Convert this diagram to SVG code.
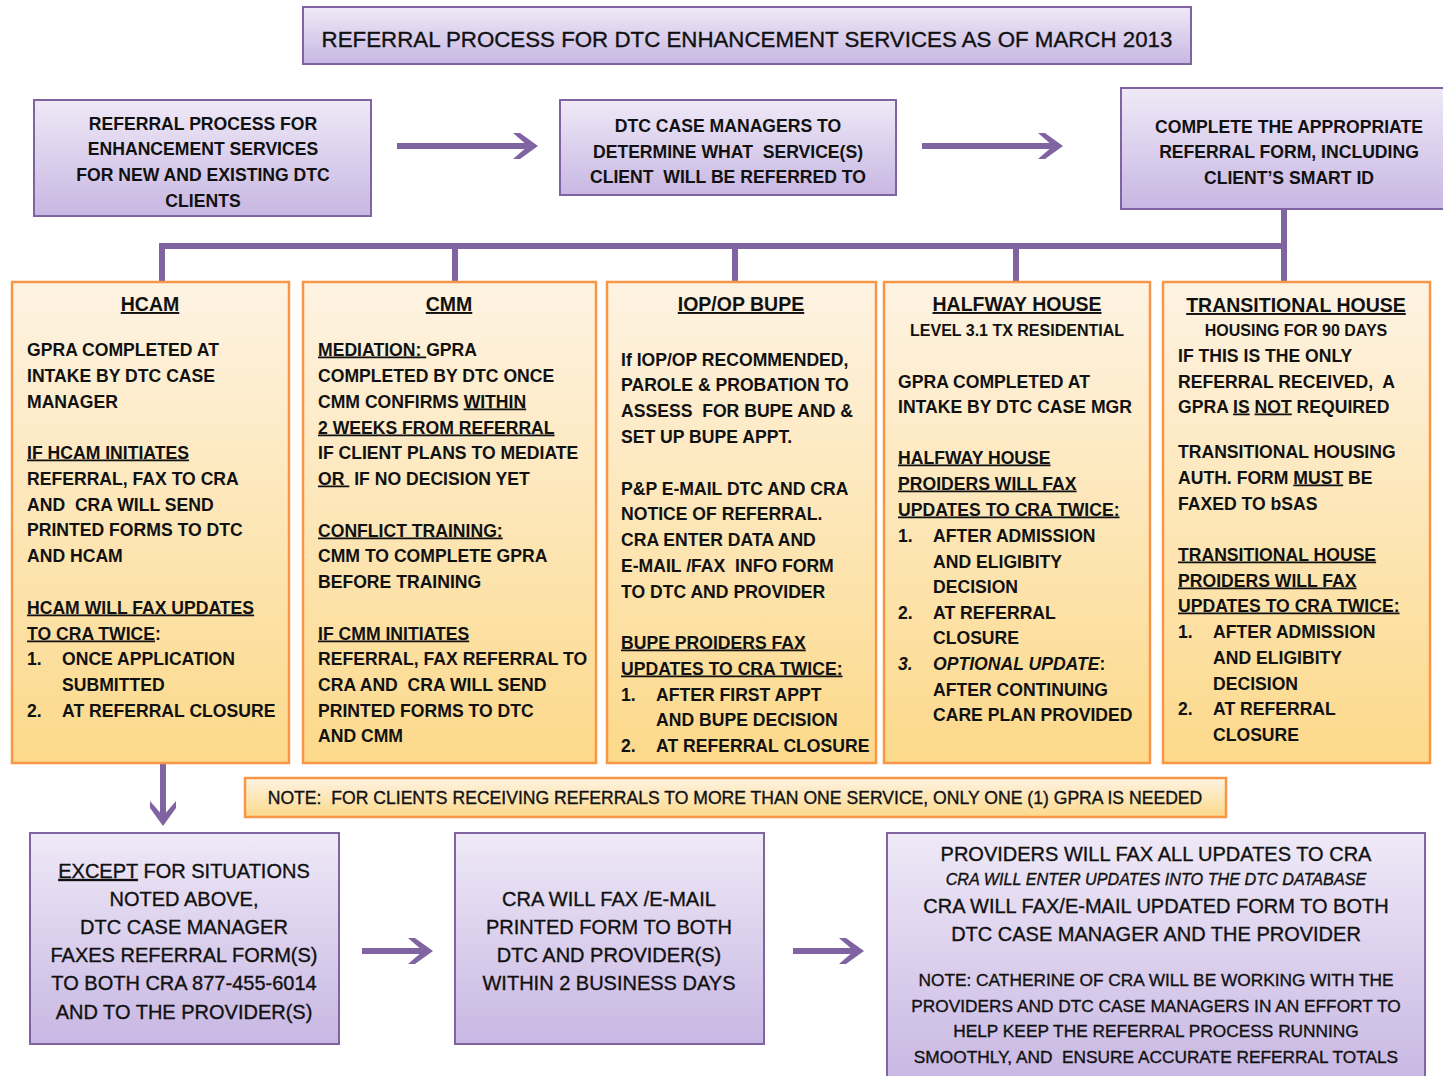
<svg xmlns="http://www.w3.org/2000/svg" width="1443" height="1076" viewBox="0 0 1443 1076">
<defs>
<linearGradient id="gp" x1="0" y1="0" x2="0" y2="1"><stop offset="0" stop-color="#efe9f7"/><stop offset="1" stop-color="#c8b7e3"/></linearGradient>
<linearGradient id="go" x1="0" y1="0" x2="0" y2="1"><stop offset="0" stop-color="#fef3e3"/><stop offset="1" stop-color="#fcd98a"/></linearGradient>
<marker id="ah" viewBox="0 0 26 28" markerWidth="26" markerHeight="28" refX="15" refY="14" markerUnits="userSpaceOnUse" orient="auto"><path d="M0,1 L7,1 L25,14 L7,27 L0,27 L15,14 Z" fill="#8064a2"/></marker>
<style>
.pb{fill:url(#gp);stroke:#8064a2;stroke-width:2}
.ob{fill:url(#go);stroke:#f79646;stroke-width:2.5}
.t{font-family:"Liberation Sans",Arial,sans-serif;fill:#111;white-space:pre}
.r{stroke:#111;stroke-width:0.35}
.b{font-weight:bold}
.s18{font-size:17.6px}
.s16{font-size:16px}
.s20{font-size:20px}
.h{font-size:19.5px}
.c{text-anchor:middle}
.u{text-decoration:underline}
.i{font-style:italic}
.ln{stroke:#8064a2;stroke-width:6;fill:none}
.ar{stroke:#8064a2;stroke-width:6;fill:none;marker-end:url(#ah)}
</style>
</defs>
<rect width="1443" height="1076" fill="#ffffff"/>

<g id="connectors">
<path class="ln" d="M1284,209 V282 M162,246 H1287 M162,243 V282 M455,246 V282 M735,246 V282 M1016,246 V282"/>
<line class="ar" x1="397" y1="146" x2="528" y2="146"/>
<line class="ar" x1="922" y1="146" x2="1053" y2="146"/>
<line class="ar" x1="163" y1="763" x2="163" y2="816"/>
<line class="ar" x1="362" y1="951" x2="423" y2="951"/>
<line class="ar" x1="793" y1="951" x2="854" y2="951"/>
</g>

<g id="title">
<rect class="pb" x="303" y="7" width="888" height="57"/>
<text class="t r c" x="747" y="47" font-size="22.3">REFERRAL PROCESS FOR DTC ENHANCEMENT SERVICES AS OF MARCH 2013</text>
</g>

<g id="start">
<rect class="pb" x="34" y="100" width="337" height="116"/>
<text class="t b s18 c" x="203" y="129.5">REFERRAL PROCESS FOR</text>
<text class="t b s18 c" x="203" y="154.5">ENHANCEMENT SERVICES</text>
<text class="t b s18 c" x="203" y="180.5">FOR NEW AND EXISTING DTC</text>
<text class="t b s18 c" x="203" y="206.5">CLIENTS</text>
</g>

<g id="determine">
<rect class="pb" x="560" y="100" width="336" height="95"/>
<text class="t b s18 c" x="728" y="131.5">DTC CASE MANAGERS TO</text>
<text class="t b s18 c" x="728" y="157.5">DETERMINE WHAT  SERVICE(S)</text>
<text class="t b s18 c" x="728" y="182.5">CLIENT  WILL BE REFERRED TO</text>
</g>

<g id="complete">
<rect class="pb" x="1121" y="88" width="330" height="121"/>
<text class="t b s18 c" x="1289" y="132.5">COMPLETE THE APPROPRIATE</text>
<text class="t b s18 c" x="1289" y="157.5">REFERRAL FORM, INCLUDING</text>
<text class="t b s18 c" x="1289" y="183.5">CLIENT’S SMART ID</text>
</g>

<g id="hcam">
<rect class="ob" x="12" y="282" width="277" height="481"/>
<text class="t b h c u" x="150" y="311">HCAM</text>
<text class="t b s18" x="27" y="355.5">GPRA COMPLETED AT</text>
<text class="t b s18" x="27" y="381.5">INTAKE BY DTC CASE</text>
<text class="t b s18" x="27" y="407.5">MANAGER</text>
<text class="t b s18 u" x="27" y="458.5">IF HCAM INITIATES</text>
<text class="t b s18" x="27" y="484.5">REFERRAL, FAX TO CRA</text>
<text class="t b s18" x="27" y="510.5">AND  CRA WILL SEND</text>
<text class="t b s18" x="27" y="535.5">PRINTED FORMS TO DTC</text>
<text class="t b s18" x="27" y="561.5">AND HCAM</text>
<text class="t b s18 u" x="27" y="613.5">HCAM WILL FAX UPDATES</text>
<text class="t b s18" x="27" y="639.5"><tspan class="u">TO CRA TWICE</tspan>:</text>
<text class="t b s18" x="27" y="664.5">1.</text><text class="t b s18" x="62" y="664.5">ONCE APPLICATION</text>
<text class="t b s18" x="62" y="690.5">SUBMITTED</text>
<text class="t b s18" x="27" y="716.5">2.</text><text class="t b s18" x="62" y="716.5">AT REFERRAL CLOSURE</text>
</g>

<g id="cmm">
<rect class="ob" x="303" y="282" width="293" height="481"/>
<text class="t b h c u" x="449" y="311">CMM</text>
<text class="t b s18" x="318" y="355.5"><tspan class="u">MEDIATION: </tspan>GPRA</text>
<text class="t b s18" x="318" y="381.5">COMPLETED BY DTC ONCE</text>
<text class="t b s18" x="318" y="407.5">CMM CONFIRMS <tspan class="u">WITHIN</tspan></text>
<text class="t b s18 u" x="318" y="433.5">2 WEEKS FROM REFERRAL</text>
<text class="t b s18" x="318" y="458.5">IF CLIENT PLANS TO MEDIATE</text>
<text class="t b s18" x="318" y="484.5"><tspan class="u">OR </tspan> IF NO DECISION YET</text>
<text class="t b s18 u" x="318" y="536.5">CONFLICT TRAINING:</text>
<text class="t b s18" x="318" y="561.5">CMM TO COMPLETE GPRA</text>
<text class="t b s18" x="318" y="587.5">BEFORE TRAINING</text>
<text class="t b s18 u" x="318" y="639.5">IF CMM INITIATES</text>
<text class="t b s18" x="318" y="664.5">REFERRAL, FAX REFERRAL TO</text>
<text class="t b s18" x="318" y="690.5">CRA AND  CRA WILL SEND</text>
<text class="t b s18" x="318" y="716.5">PRINTED FORMS TO DTC</text>
<text class="t b s18" x="318" y="741.5">AND CMM</text>
</g>

<g id="iop">
<rect class="ob" x="607" y="282" width="269" height="481"/>
<text class="t b h c u" x="741" y="311">IOP/OP BUPE</text>
<text class="t b s18" x="621" y="365.5">If IOP/OP RECOMMENDED,</text>
<text class="t b s18" x="621" y="390.5">PAROLE &amp; PROBATION TO</text>
<text class="t b s18" x="621" y="416.5">ASSESS  FOR BUPE AND &amp;</text>
<text class="t b s18" x="621" y="442.5">SET UP BUPE APPT.</text>
<text class="t b s18" x="621" y="494.5">P&amp;P E-MAIL DTC AND CRA</text>
<text class="t b s18" x="621" y="519.5">NOTICE OF REFERRAL.</text>
<text class="t b s18" x="621" y="545.5">CRA ENTER DATA AND</text>
<text class="t b s18" x="621" y="571.5">E-MAIL /FAX  INFO FORM</text>
<text class="t b s18" x="621" y="597.5">TO DTC AND PROVIDER</text>
<text class="t b s18 u" x="621" y="648.5">BUPE PROIDERS FAX</text>
<text class="t b s18 u" x="621" y="674.5">UPDATES TO CRA TWICE:</text>
<text class="t b s18" x="621" y="700.5">1.</text><text class="t b s18" x="656" y="700.5">AFTER FIRST APPT</text>
<text class="t b s18" x="656" y="725.5">AND BUPE DECISION</text>
<text class="t b s18" x="621" y="751.5">2.</text><text class="t b s18" x="656" y="751.5">AT REFERRAL CLOSURE</text>
</g>

<g id="halfway">
<rect class="ob" x="884" y="282" width="266" height="481"/>
<text class="t b h c u" x="1017" y="311">HALFWAY HOUSE</text>
<text class="t b s16 c" x="1017" y="335.5">LEVEL 3.1 TX RESIDENTIAL</text>
<text class="t b s18" x="898" y="387.5">GPRA COMPLETED AT</text>
<text class="t b s18" x="898" y="412.5">INTAKE BY DTC CASE MGR</text>
<text class="t b s18 u" x="898" y="463.5">HALFWAY HOUSE</text>
<text class="t b s18 u" x="898" y="489.5">PROIDERS WILL FAX</text>
<text class="t b s18 u" x="898" y="515.5">UPDATES TO CRA TWICE:</text>
<text class="t b s18" x="898" y="541.5">1.</text><text class="t b s18" x="933" y="541.5">AFTER ADMISSION</text>
<text class="t b s18" x="933" y="567.5">AND ELIGIBITY</text>
<text class="t b s18" x="933" y="592.5">DECISION</text>
<text class="t b s18" x="898" y="618.5">2.</text><text class="t b s18" x="933" y="618.5">AT REFERRAL</text>
<text class="t b s18" x="933" y="643.5">CLOSURE</text>
<text class="t b s18 i" x="898" y="669.5">3.</text><text class="t b s18" x="933" y="669.5"><tspan class="i">OPTIONAL UPDATE</tspan>:</text>
<text class="t b s18" x="933" y="695.5">AFTER CONTINUING</text>
<text class="t b s18" x="933" y="720.5">CARE PLAN PROVIDED</text>
</g>

<g id="transitional">
<rect class="ob" x="1163" y="282" width="267" height="481"/>
<text class="t b h c u" x="1296" y="312">TRANSITIONAL HOUSE</text>
<text class="t b s16 c" x="1296" y="335.5">HOUSING FOR 90 DAYS</text>
<text class="t b s18" x="1178" y="361.5">IF THIS IS THE ONLY</text>
<text class="t b s18" x="1178" y="387.5">REFERRAL RECEIVED,  A</text>
<text class="t b s18" x="1178" y="412.5">GPRA <tspan class="u">IS</tspan> <tspan class="u">NOT</tspan> REQUIRED</text>
<text class="t b s18" x="1178" y="457.5">TRANSITIONAL HOUSING</text>
<text class="t b s18" x="1178" y="483.5">AUTH. FORM <tspan class="u">MUST</tspan> BE</text>
<text class="t b s18" x="1178" y="509.5">FAXED TO bSAS</text>
<text class="t b s18 u" x="1178" y="560.5">TRANSITIONAL HOUSE</text>
<text class="t b s18 u" x="1178" y="586.5">PROIDERS WILL FAX</text>
<text class="t b s18 u" x="1178" y="611.5">UPDATES TO CRA TWICE:</text>
<text class="t b s18" x="1178" y="637.5">1.</text><text class="t b s18" x="1213" y="637.5">AFTER ADMISSION</text>
<text class="t b s18" x="1213" y="663.5">AND ELIGIBITY</text>
<text class="t b s18" x="1213" y="689.5">DECISION</text>
<text class="t b s18" x="1178" y="714.5">2.</text><text class="t b s18" x="1213" y="714.5">AT REFERRAL</text>
<text class="t b s18" x="1213" y="740.5">CLOSURE</text>
</g>

<g id="note">
<rect class="ob" x="245" y="778" width="981" height="39"/>
<text class="t r c" x="735" y="804" font-size="17.6">NOTE:  FOR CLIENTS RECEIVING REFERRALS TO MORE THAN ONE SERVICE, ONLY ONE (1) GPRA IS NEEDED</text>
</g>

<g id="except">
<rect class="pb" x="30" y="833" width="309" height="211"/>
<text class="t r s20 c" x="184" y="878"><tspan class="u">EXCEPT</tspan> FOR SITUATIONS</text>
<text class="t r s20 c" x="184" y="906">NOTED ABOVE,</text>
<text class="t r s20 c" x="184" y="934">DTC CASE MANAGER</text>
<text class="t r s20 c" x="184" y="962">FAXES REFERRAL FORM(S)</text>
<text class="t r s20 c" x="184" y="990">TO BOTH CRA 877-455-6014</text>
<text class="t r s20 c" x="184" y="1019">AND TO THE PROVIDER(S)</text>
</g>

<g id="cra-fax">
<rect class="pb" x="455" y="833" width="309" height="211"/>
<text class="t r s20 c" x="609" y="906">CRA WILL FAX /E-MAIL</text>
<text class="t r s20 c" x="609" y="934">PRINTED FORM TO BOTH</text>
<text class="t r s20 c" x="609" y="962">DTC AND PROVIDER(S)</text>
<text class="t r s20 c" x="609" y="990">WITHIN 2 BUSINESS DAYS</text>
</g>

<g id="providers">
<rect class="pb" x="887" y="833" width="538" height="250"/>
<text class="t r s20 c" x="1156" y="861">PROVIDERS WILL FAX ALL UPDATES TO CRA</text>
<text class="t r c i" x="1156" y="885" font-size="16.2">CRA WILL ENTER UPDATES INTO THE DTC DATABASE</text>
<text class="t r s20 c" x="1156" y="913">CRA WILL FAX/E-MAIL UPDATED FORM TO BOTH</text>
<text class="t r s20 c" x="1156" y="941">DTC CASE MANAGER AND THE PROVIDER</text>
<text class="t r c" x="1156" y="986" font-size="17.3">NOTE: CATHERINE OF CRA WILL BE WORKING WITH THE</text>
<text class="t r c" x="1156" y="1012" font-size="17.3">PROVIDERS AND DTC CASE MANAGERS IN AN EFFORT TO</text>
<text class="t r c" x="1156" y="1037" font-size="17.3">HELP KEEP THE REFERRAL PROCESS RUNNING</text>
<text class="t r c" x="1156" y="1063" font-size="17.3">SMOOTHLY, AND  ENSURE ACCURATE REFERRAL TOTALS</text>
</g>
</svg>
